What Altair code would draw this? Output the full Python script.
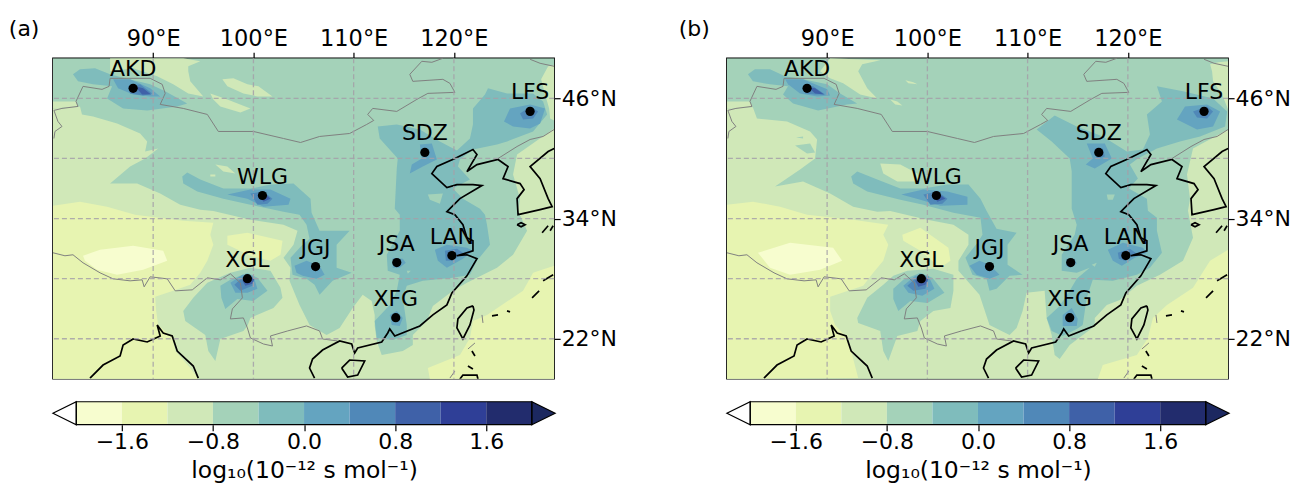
import altair as alt

# ---- values (lon, lat) ----
LEVEL_EDGES = [-2.0, -1.6, -1.2, -0.8, -0.4, 0.0, 0.4, 0.8, 1.2, 1.6, 2.0]
LEVEL_COLORS = ["#f7fdcf", "#e7f4b1", "#d0e8b8", "#a4d2b9", "#7fbcbc", "#64a4c0",
                "#5088b8", "#3f61a8", "#2f3f97", "#222c6d"]
CBAR_TICKS = [-1.6, -0.8, 0.0, 0.8, 1.6]
LON_TICKS = [90, 100, 110, 120]
LAT_TICKS = [22, 34, 46]
LAT_GRID = [22, 28, 34, 40, 46]

STATION_NAMES = ["AKD", "LFS", "SDZ", "WLG", "XGL", "JGJ", "JSA", "LAN", "XFG"]
STATION_LON = [88.0, 127.6, 117.1, 100.9, 99.4, 106.2, 114.3, 119.8, 114.2]
STATION_LAT = [47.0, 44.7, 40.6, 36.3, 28.0, 29.2, 29.6, 30.3, 24.1]

BASE = [(80, 18), (130, 18), (130, 50), (80, 50)]

BORDERS = [
    [(80.1,44.8),(80.9,45.0),(82.5,45.2),(82.3,45.7),(83.0,47.2),(84.9,46.9),(85.6,47.2),(85.7,48.0),(86.5,48.0),
     (89.7,48.0),(90.9,47.4),(91.2,46.5),(90.7,45.4),(93.0,45.0),(95.4,44.4),(96.5,42.7),(100.0,42.7),(103.0,42.0),
     (104.7,41.6),(106.6,42.2),(109.6,42.5),(111.3,43.4),(112.0,43.8),(111.4,44.4),(111.9,45.0),(114.3,44.7),
     (116.3,45.9),(117.4,46.5),(120.1,46.6),(119.6,47.5),(118.9,47.9),(115.9,47.7),(115.6,48.4),(116.8,49.7),
     (117.8,49.6),(118.9,50.0)],
    [(80.1,44.8),(80.5,43.7),(80.9,43.2),(80.2,42.7),(80.1,42.0)],
    [(127.6,49.9),(128.6,49.5),(130.0,49.2)],
    [(124.4,40.0),(126.3,41.2),(127.6,41.9),(128.9,42.2),(130.0,42.9)],
    [(80.0,30.6),(81.2,30.3),(82.0,30.4),(83.0,29.6),(84.7,28.6),(86.0,28.0),(87.7,27.8),(88.9,27.9),(89.1,27.2),
     (89.7,28.2),(91.4,28.0),(92.2,26.8),(93.9,26.9),(95.4,28.1),(96.7,27.9),(97.7,28.5),(98.7,27.6),(98.9,26.1),
     (97.9,25.0),(97.7,24.0),(99.0,24.1),(99.4,23.1),(99.7,22.1),(101.0,21.5),(101.9,21.3),(101.7,22.3),(103.4,22.8),
     (105.3,23.3),(106.6,22.8),(106.9,22.0),(108.4,21.8)],
    [(122.8,24.4),(122.9,23.6)],
    [(121.4,21.0),(122.1,21.6)],
    [(119.6,18.1),(120.1,18.8)],
]

COASTS = [
    [(83.7,18.1),(85.0,19.4),(86.7,20.3),(87.0,21.4),(88.0,22.0),(89.4,21.7),(90.7,22.3),(90.4,23.4),(91.0,22.6),
     (91.9,22.3),(92.4,20.8),(94.0,19.3),(94.5,18.1)],
    [(106.1,18.1),(105.6,19.1),(105.9,20.0),(106.9,20.9),(108.6,21.8),(109.8,21.5),(110.1,20.6),(110.4,21.1),
     (112.8,21.7),(113.4,22.6),(113.6,23.0),(114.1,22.3),(116.6,23.3),(117.9,24.4),(119.3,25.4),(119.8,26.6),
     (121.3,28.3),(122.3,30.0),(121.3,30.4),(120.3,30.3),(121.9,30.8),(121.9,31.8),(121.3,32.1),(120.9,33.4),
     (120.1,34.4),(119.3,34.7),(120.1,35.5),(120.6,36.0),(122.8,37.3),(121.9,37.4),(120.3,37.4),(119.3,37.1),
     (117.8,38.5),(118.3,39.2),(120.1,40.0),(121.9,40.9),(122.3,40.4),(121.3,38.7),(122.3,39.4),(124.4,39.9),
     (125.4,39.2),(124.9,38.0),(126.6,37.5),(127.0,36.9),(126.3,36.0),(126.4,34.4),(128.6,34.9),(129.8,35.2),
     (129.4,36.0),(128.6,38.0),(127.6,39.2),(129.4,40.7),(130.0,41.0)],
    [(121.9,25.3),(121.3,25.1),(120.4,24.0),(120.3,23.1),(120.9,22.0),(121.6,23.4),(122.0,24.9),(121.9,25.3)],
    [(108.8,19.1),(109.6,19.9),(111.1,19.8),(110.4,18.4),(109.4,18.2),(108.8,19.1)],
    [(120.6,18.0),(120.9,18.4),(122.3,18.4),(122.4,18.0)],
    [(126.3,33.4),(126.7,33.6),(127.1,33.4),(126.7,33.2),(126.3,33.4)],
    [(127.8,26.1),(128.5,26.8)],
    [(128.9,27.8),(129.9,28.4)],
    [(123.8,24.3),(124.4,24.4)],
    [(125.3,24.8),(125.6,24.7)],
    [(128.8,32.6),(129.4,33.3)],
    [(129.6,32.8),(129.9,33.3)],
    [(121.8,20.8),(122.1,20.3)],
    [(121.4,19.3),(121.9,19.0)],
]

# contour polygons of panel (a), (level index, ring), painted in this order
PANEL_A = [
 (3, BASE),
 (2, [(80.0,45.0),(82.7,45.2),(82.9,44.4),(84.0,44.2),(86.4,43.5),(88.7,42.5),(89.4,41.7),(89.2,40.7),(90.5,41.0),(89.2,40.0),
      (87.7,39.2),(85.7,37.5),(88.4,37.5),(90.7,36.5),(92.7,35.4),(94.7,34.9),(96.0,34.76),(99.7,33.9),(103.0,33.4),(104.4,32.8),
      (104.0,31.4),(103.0,30.1),(103.7,29.1),(103.6,27.8),(104.6,25.4),(105.6,23.4),(107.3,22.4),(108.6,23.1),(109.9,25.1),
      (110.9,26.4),(111.8,25.8),(112.1,24.4),(112.1,23.3),(112.3,21.8),(112.8,20.4),(114.9,20.8),(115.9,21.4),(115.9,22.4),
      (117.3,23.8),(117.9,25.3),(119.9,26.8),(121.3,27.6),(124.3,29.1),(125.9,30.4),(127.3,32.8),(126.4,34.8),(126.6,36.0),
      (125.9,38.4),(126.3,40.4),(130,43.0),(130,18),(80,18)]),
 (2, [(80,45.7),(81.2,45.7),(82.3,45.7),(82.5,45.2),(80,45.0)]),
 (2, [(130,49.3),(129.4,49.2),(128.7,47.9),(129.1,46.4),(129.5,45.0),(129.6,44.0),(130,43.8)]),
 (2, [(85.7,50),(93.0,50),(94.7,49.7),(93.5,49.2),(93.5,48.7),(93.7,47.7),(95.0,46.2),(93.5,46.5),(92.0,47.4),(90.4,48.2),(88.0,49.0),(85.7,48.7)]),
 (2, [(96.9,47.9),(98.0,48.0),(99.4,47.4),(100.5,47.2),(101.9,46.2),(100.4,46.2),(99.0,46.5),(97.4,47.2)]),
 (2, [(95.7,46.5),(97.4,45.9),(99.7,45.0),(98.7,44.6),(96.7,45.2),(96.0,45.9)]),
 (2, [(96.2,39.4),(97.4,39.2),(98.2,38.5),(97.0,38.7)]),
 (2, [(95.7,38.4),(96.2,38.4),(96.2,38.2),(95.7,38.2)]),
 (1, [(80.0,35.3),(82.7,35.7),(85.4,35.2),(88.2,34.4),(93.0,33.8),(96.0,33.6),(95.7,32.4),(96.0,31.4),(95.4,29.8),(94.7,28.6),
      (93.7,27.4),(92.0,26.8),(90.2,26.2),(90.3,24.8),(90.5,23.4),(91.9,22.1),(92.2,20.8),(93.7,19.1),(94.5,18),(80,18)]),
 (1, [(97.4,32.3),(99.4,32.6),(102.9,31.8),(102.7,30.4),(101.7,29.8),(99.7,30.3),(97.4,31.4)]),
 (1, [(130,29.3),(127.9,28.6),(126.9,26.8),(123.3,24.4),(121.9,23.8),(121.6,22.1),(120.6,20.4),(117.4,19.1),(117.6,18),(130,18)]),
 (0, [(83.0,30.3),(84.7,30.9),(88.0,31.3),(91.0,30.8),(91.4,29.8),(89.0,28.9),(86.4,28.4),(84.4,28.9),(83.2,29.8)]),
 (3, [(93.0,24.8),(94.0,26.1),(95.4,27.6),(97.0,28.3),(97.7,28.6),(99.7,29.1),(101.7,28.8),(102.7,27.1),(102.9,26.1),(102.0,25.1),
      (99.7,24.1),(99.4,23.3),(99.0,22.8),(96.7,22.0),(96.2,19.8),(95.5,20.8),(95.2,22.4),(93.2,23.8)]),
 (4, [(96.7,27.3),(97.7,27.9),(99.4,28.6),(100.4,28.1),(101.4,26.8),(100.0,25.8),(98.4,26.0),(97.2,25.0),(96.8,26.1)]),
 (5, [(97.7,27.6),(98.9,28.4),(100.0,28.3),(100.4,27.0),(99.4,26.6),(98.2,26.6)]),
 (6, [(98.1,27.4),(99.2,28.4),(100.0,28.1),(99.9,27.3),(98.7,26.8)]),
 (7, [(98.9,27.8),(99.4,28.3),(100.1,28.0),(99.9,27.5),(99.2,27.3)]),
 (4, [(92.9,38.2),(93.4,38.6),(94.7,37.9),(97.0,37.0),(99.7,37.0),(101.7,37.4),(104.0,37.5),(105.7,36.0),(105.8,34.6),(106.6,32.8),
      (109.6,32.8),(108.3,31.4),(108.3,29.1),(109.8,28.6),(107.9,27.8),(106.6,26.4),(106.1,27.4),(105.3,28.0),(103.9,28.4),(103.7,30.1),
      (104.8,31.3),(105.6,32.0),(105.3,33.4),(104.6,34.4),(103.0,34.7),(99.7,35.4),(97.0,36.0),(94.4,36.7),(93.0,37.5)]),
 (4, [(112.4,43.2),(114.3,43.4),(116.6,42.9),(118.6,41.7),(120.3,40.8),(121.6,42.0),(121.9,43.4),(121.9,45.0),(123.1,46.4),(123.4,47.0),
      (125.3,46.5),(127.9,46.5),(128.9,45.7),(129.3,44.4),(127.9,42.7),(125.3,41.7),(124.3,41.4),(121.9,40.9),(120.6,39.9),(120.4,39.2),
      (121.6,37.9),(119.9,37.0),(120.9,36.0),(122.6,35.0),(123.1,34.4),(123.3,33.4),(123.6,31.4),(122.3,29.8),(121.6,28.4),(119.9,28.1),
      (116.9,27.8),(115.3,27.3),(114.9,26.1),(115.3,23.4),(115.3,22.4),(113.9,21.9),(112.3,22.1),(112.1,23.8),(113.6,25.4),(114.3,26.8),
      (114.6,28.4),(113.4,28.8),(113.3,30.4),(114.6,32.8),(114.6,34.4),(114.1,35.0),(114.3,39.0),(114.4,40.0),(112.6,42.0)]),
 (3, [(117.4,36.4),(118.9,36.5),(118.6,35.5),(117.6,35.9)]),
 (3, [(115.3,28.8),(115.7,28.8),(115.4,28.5)]),
 (5, [(116.6,41.4),(117.8,41.5),(118.3,39.9),(116.9,39.2),(115.6,38.5),(115.8,39.4),(116.8,40.0)]),
 (5, [(125.6,45.0),(127.6,45.4),(129.1,45.0),(128.6,43.5),(127.6,43.0),(125.9,43.2),(125.0,43.7)]),
 (6, [(126.6,44.5),(127.6,45.2),(128.4,44.7),(127.9,44.0),(126.9,43.9)]),
 (5, [(118.1,30.9),(119.3,31.4),(121.3,31.1),(121.9,30.8),(120.9,30.0),(119.3,29.1),(118.4,29.8)]),
 (6, [(119.1,30.8),(120.3,31.0),(120.9,30.6),(119.9,29.8),(119.2,29.8)]),
 (5, [(113.9,30.1),(114.9,30.0),(115.2,29.6),(114.6,29.1),(113.9,29.1)]),
 (5, [(113.6,24.4),(114.3,24.8),(114.9,24.1),(114.6,23.3),(113.8,23.4)]),
 (5, [(104.1,29.3),(105.3,29.8),(106.6,29.3),(107.1,28.4),(106.3,28.0),(104.9,28.3),(104.3,28.6)]),
 (4, [(82.0,48.4),(82.7,48.9),(84.2,49.0),(85.7,48.4),(87.2,48.0),(89.7,47.4),(91.2,46.7),(93.4,45.5),(92.4,45.2),(89.4,44.8),(87.0,45.0),
      (85.4,46.0),(85.9,47.2),(84.0,47.4),(82.5,47.7)]),
 (5, [(86.0,47.9),(87.7,47.9),(89.7,47.0),(90.7,46.2),(89.7,46.2),(88.0,46.4),(86.5,47.0)]),
 (6, [(87.5,47.2),(88.7,47.4),(89.9,46.5),(89.0,46.3),(87.7,46.5)]),
 (7, [(88.2,47.2),(89.0,47.0),(89.8,46.4),(88.9,46.4)]),
 (5, [(97.4,36.4),(99.7,36.9),(101.7,36.9),(103.7,36.0),(103.5,35.4),(101.0,35.2),(99.4,36.0)]),
 (6, [(99.7,36.5),(101.0,36.7),(101.9,36.0),(101.4,35.5),(100.4,35.4)]),
 (7, [(100.5,36.4),(101.2,36.5),(101.7,36.0),(101.0,35.7)]),
]

# contour polygons of panel (b)
PANEL_B = [
 (3, BASE),
 (2, [(80.0,45.0),(82.6,45.1),(83.0,44.0),(86.0,43.7),(88.3,42.7),(89.0,41.9),(88.8,40.0),(87.3,38.9),(84.8,37.2),(87.6,37.7),(90.3,36.5),
      (92.6,35.2),(95.0,34.7),(96.3,34.76),(100.0,33.9),(102.6,33.4),(104.1,32.4),(104.1,31.4),(103.1,29.8),(103.1,28.8),(105.2,26.4),
      (106.2,23.4),(108.2,22.4),(108.9,23.1),(109.5,24.8),(109.9,26.6),(111.7,26.8),(111.9,24.1),(112.4,22.4),(112.7,20.4),(113.2,20.0),
      (114.2,21.4),(116.7,23.3),(116.7,24.1),(117.9,25.4),(119.2,25.9),(120.9,27.3),(123.2,28.4),(125.5,29.8),(126.5,32.1),(126.0,34.8),
      (126.2,36.0),(125.9,38.4),(126.5,41.0),(130,42.9),(130,18),(80,18)]),
 (2, [(80,45.7),(82.3,45.7),(82.6,45.1),(80,45.0)]),
 (2, [(130,49.7),(129,49.6),(128.2,49.4),(128.4,48.7),(128.5,47.7),(129.4,46.4),(130,44.9)]),
 (2, [(90.3,50),(95.3,49.8),(93.5,49.4),(93.1,48.7),(94.0,47.0),(95.0,46.0),(93.3,46.4),(91.6,47.5),(90.3,48.0),(89.3,48.7)]),
 (2, [(97.8,47.8),(98.6,47.6),(99.0,47.4),(98.1,47.5)]),
 (2, [(96.3,45.9),(97.0,45.7),(97.5,45.3),(96.8,45.4)]),
 (2, [(95.3,39.5),(97.3,39.4),(99.0,38.5),(99.3,37.7),(97.0,37.7),(95.6,38.5)]),
 (3, [(86.9,42.1),(87.6,42.2),(87.6,42.0)]),
 (3, [(86.8,41.3),(88.3,41.5),(88.8,40.6),(88.0,40.5)]),
 (1, [(80,35.4),(82.6,35.7),(85.3,35.2),(88,34.4),(92.6,33.9),(96.1,33.4),(95.6,32.4),(96.1,31.4),(95.6,29.8),(94.6,28.6),(93.6,27.3),
      (92.1,26.8),(90.3,26.2),(90.3,24.8),(90.8,23.4),(92.0,22.1),(92.5,20.4),(93.1,18.1),(80,18)]),
 (1, [(97.5,32.4),(99.3,33.1),(102.1,31.1),(102.3,29.8),(101.3,29.1),(99.3,30.8),(97.6,31.8)]),
 (1, [(130,30.9),(128.2,29.8),(126.5,27.1),(123.9,25.4),(122.5,24.1),(122.0,22.1),(120.9,20.4),(117.5,19.4),(117.0,18.0),(130,18)]),
 (0, [(83.1,30.6),(86.3,31.6),(90.6,31.1),(91.5,29.8),(89.3,28.9),(86.3,28.4),(84.3,29.1)]),
 (3, [(93.0,24.1),(94,26.1),(95.6,27.4),(96.6,28.3),(98,28.8),(100.6,29.0),(102.6,28.4),(102.6,26.8),(102.3,25.1),(100.6,24.8),(99.3,23.8),
      (99,22.8),(97,22.3),(96.1,19.8),(95.6,20.8),(95.3,22.8),(93.1,23.6)]),
 (4, [(96.6,27),(97.6,27.9),(99.3,28.6),(100.5,28.1),(101.7,26.6),(100,25.6),(98.3,25.8),(97.1,24.8),(96.6,26)]),
 (5, [(97.6,27.3),(98.8,28.3),(100.1,28.3),(100.7,27),(99.5,26.3),(98.1,26.6)]),
 (6, [(98,27.3),(99.1,28.3),(100.1,28),(99.8,27),(98.6,26.8)]),
 (7, [(98.8,27.8),(99.3,28.4),(100.1,28),(99.8,27.4),(99.1,27.2)]),
 (4, [(92.4,38.2),(93,38.7),(95,37.9),(97.3,37),(99.6,37),(102,37.4),(104.1,37.4),(105.3,36),(105.9,34.8),(106.9,33),(108.9,32.6),(108,31.4),
      (108,29.4),(109.5,28.4),(108.2,28.3),(106.9,27),(106.2,26.8),(105.9,28),(104.5,28.4),(103.8,30.1),(105,31.6),(105.5,32.4),(105.3,34.1),
      (102.6,34.6),(99.6,35.4),(97.3,35.9),(94,36.7),(92.6,37.5)]),
 (4, [(110.9,42.9),(112.7,44.3),(114.9,43.2),(117.5,42.2),(119.9,40.7),(121.5,40.9),(122.2,42.4),(121.9,44.4),(123.4,45.7),(122.9,47.2),
      (125.5,46.7),(128.5,46),(129.9,44.7),(129.7,43.2),(127.2,42.2),(125.2,41.7),(122.9,41),(121,40),(120.2,39.4),(121,38),(120.1,37),(121.9,36),
      (122,34.8),(122.9,34.1),(122.9,32.8),(123.4,30.6),(122.2,29.1),(120.9,28.4),(118.5,27.8),(116.5,27.9),(115.9,26.1),(115.5,23.4),(114.9,23),
      (113.5,22.3),(112.4,22.8),(111.9,24.1),(113.2,25.3),(114.2,26.8),(114.9,28),(116.2,29.1),(114.9,28.6),(113.4,28.8),(113.4,30.4),(114.7,32.4),
      (114.9,33.4),(114.4,35),(114.4,38.7),(114.2,40),(112.4,41.7)]),
 (3, [(117.9,36.4),(118.7,36.4),(118.5,35.9),(118,35.9)]),
 (3, [(116.4,29.4),(116.9,29.6),(116.7,29.2)]),
 (5, [(115.9,41.5),(117.7,41.5),(118.4,40),(116.7,39),(115.8,39.4),(116.5,40)]),
 (6, [(116.7,41),(117.5,41),(117.7,40.2),(116.9,40)]),
 (5, [(125.7,45.2),(127.9,45.4),(129.2,44.7),(128.5,43.2),(126.9,42.9),(124.9,43.9)]),
 (6, [(126.5,44.7),(127.9,45.2),(128.5,44.7),(127.9,44),(126.9,44.1)]),
 (5, [(118,30.9),(119.5,31.6),(121.5,31.1),(121.9,30.6),(120.7,30.1),(119.4,29.3),(118.5,29.8)]),
 (6, [(119,30.6),(120.2,31),(120.9,30.5),(119.7,29.8),(119.1,30)]),
 (5, [(113.9,30),(114.7,30),(114.9,29.5),(114.2,29.1),(113.8,29.3)]),
 (5, [(113.5,24.4),(114.4,25.1),(115,24),(114.9,23.3),(113.5,23.3)]),
 (5, [(104.2,29.3),(105.2,29.8),(106.2,29.4),(107.2,28.4),(106.2,28),(104.9,28.4)]),
 (4, [(82.1,48.4),(82.8,48.9),(84.3,48.9),(85.8,48.2),(87.6,47.9),(90,47.4),(91.3,46.5),(93,45.5),(92,45.4),(89.1,44.8),(86.6,45.5),(85.6,46.4),
      (86.1,47.2),(84.3,47.4),(82.6,47.7)]),
 (5, [(85.8,47.9),(87.6,47.9),(90,46.9),(90.3,46.3),(89,46.2),(87.3,46.5),(86.1,47.4)]),
 (6, [(87.6,47.2),(88.6,47.2),(89.8,46.4),(88.8,46.4),(87.8,46.5)]),
 (7, [(88.1,47.1),(88.8,47),(89.7,46.4),(88.8,46.5)]),
 (5, [(97.4,36.4),(99.6,36.9),(102,36.7),(104,36.2),(104,35.4),(101.3,35.3),(99.3,35.9)]),
 (6, [(99.6,36.4),(101,36.7),(102,36),(101.5,35.5),(100.3,35.4)]),
 (7, [(100.5,36.4),(101.1,36.5),(101.8,36),(101,35.7)]),
]

FONT = "DejaVu Sans"
FS = 22
CBAR_TITLE = "log₁₀(10⁻¹² s mol⁻¹)"

PROJ = dict(type="identity", reflectY=True, scale=10.04, translate=[-803.2, 502])
XS = alt.Scale(domain=[80, 130], nice=False, zero=False)
YS = alt.Scale(domain=[18, 50], nice=False, zero=False)

COMMON_AXIS = dict(grid=False, domain=False, tickSize=6, tickColor="black", tickWidth=1.2, title=None,
                   labelFont=FONT, labelColor="black")
XAX = alt.Axis(orient="top", values=LON_TICKS, labelExpr="datum.value + '°E'", labelPadding=2, labelFontSize=22.5, **COMMON_AXIS)
YAX = alt.Axis(orient="right", values=LAT_TICKS, labelExpr="datum.value + '°N'", labelPadding=1, labelFontSize=22, **COMMON_AXIS)


def fc(features):
    return alt.InlineData(values={"type": "FeatureCollection", "features": features},
                          format=alt.DataFormat(property="features", type="json"))


def polys(rows):
    return fc([{"type": "Feature", "properties": {"level": l},
                "geometry": {"type": "Polygon", "coordinates": [[list(p) for p in ring] + [list(ring[0])]]}}
               for l, ring in rows])


def lines(rows):
    return fc([{"type": "Feature", "properties": {},
                "geometry": {"type": "LineString", "coordinates": [list(p) for p in r]}} for r in rows])


def panel(rows, tag, tag_lon):
    fills = alt.Chart(polys(rows)).mark_geoshape(strokeWidth=0).encode(
        color=alt.Color("properties.level:O", legend=None,
                        scale=alt.Scale(domain=list(range(10)), range=LEVEL_COLORS))
    ).project(**PROJ)
    border = alt.Chart(lines(BORDERS)).mark_geoshape(filled=False, stroke="#7f7f7f", strokeWidth=1).project(**PROJ)
    coast = alt.Chart(lines(COASTS)).mark_geoshape(filled=False, stroke="black", strokeWidth=1.7).project(**PROJ)
    vgrid = alt.Chart(alt.Data(values=[{"lon": v} for v in LON_TICKS])).mark_rule(
        color="#a5a0a8", strokeDash=[5, 3], strokeWidth=1.3, opacity=0.85
    ).encode(x=alt.X("lon:Q", scale=XS, axis=XAX))
    hgrid = alt.Chart(alt.Data(values=[{"lat": v} for v in LAT_GRID])).mark_rule(
        color="#a5a0a8", strokeDash=[5, 3], strokeWidth=1.3, opacity=0.85
    ).encode(y=alt.Y("lat:Q", scale=YS, axis=YAX))
    st = alt.Data(values=[{"n": n, "lon": a, "lat": b} for n, a, b in zip(STATION_NAMES, STATION_LON, STATION_LAT)])
    pos = dict(x=alt.X("lon:Q", scale=XS, axis=XAX), y=alt.Y("lat:Q", scale=YS, axis=YAX))
    dots = alt.Chart(st).mark_point(filled=True, color="black", size=85, opacity=1).encode(**pos)
    names = alt.Chart(st).mark_text(font=FONT, fontSize=FS, color="black", dy=-19).encode(text="n:N", **pos)
    label = alt.Chart(alt.Data(values=[{"t": tag, "lon": tag_lon, "lat": 52.9}])).mark_text(
        font=FONT, fontSize=FS, color="black", align="left", clip=False).encode(text="t:N", **pos)
    return alt.layer(fills, border, coast, vgrid, hgrid, dots, names, label).properties(
        width=502, height=321, view=alt.ViewConfig(stroke="black", strokeWidth=1.5))


def colorbar():
    lo = LEVEL_EDGES[0]
    hi = LEVEL_EDGES[-1]
    xs = alt.Scale(domain=[lo - 0.205, hi + 0.205], nice=False, zero=False)
    ys = alt.Scale(domain=[0, 1], nice=False)
    ax = alt.Axis(values=CBAR_TICKS, grid=False, domain=False, tickSize=6, tickColor="black", tickWidth=1.2,
                  labelFont=FONT, labelFontSize=FS, labelColor="black", labelPadding=1,
                  title=CBAR_TITLE, titleFont=FONT, titleFontSize=23.5, titleFontWeight="normal", titleColor="black",
                  titlePadding=6, labelExpr="replace(format(datum.value, '.1f'), '-', '−')")
    yax = alt.Axis(labels=False, ticks=False, domain=False, grid=False, title=None)
    rows = [{"a": a, "b": b, "c": c} for a, b, c in zip(LEVEL_EDGES[:-1], LEVEL_EDGES[1:], LEVEL_COLORS)]
    rects = alt.Chart(alt.Data(values=rows)).mark_rect().encode(
        x=alt.X("a:Q", scale=xs, axis=ax),
        x2="b:Q", y=alt.value(0), y2=alt.value(23), color=alt.Color("c:N", scale=None))
    frame = alt.Chart(alt.Data(values=[{"a": lo, "b": hi}])).mark_rect(
        fill="transparent", stroke="black", strokeWidth=1.2).encode(
        x=alt.X("a:Q", scale=xs, axis=ax), x2="b:Q", y=alt.value(0), y2=alt.value(23))
    left = alt.Chart(alt.Data(values=[{"x": lo - 0.205, "y": 0.5, "y2": 0.5}, {"x": lo, "y": 0, "y2": 1}])).mark_area(
        color="white", stroke="black", strokeWidth=1.2).encode(
        x=alt.X("x:Q", scale=xs, axis=ax), y=alt.Y("y:Q", scale=ys, axis=yax), y2="y2:Q")
    right = alt.Chart(alt.Data(values=[{"x": hi, "y": 0, "y2": 1}, {"x": hi + 0.205, "y": 0.5, "y2": 0.5}])).mark_area(
        color="#1c2860", stroke="black", strokeWidth=1.2).encode(
        x=alt.X("x:Q", scale=xs, axis=ax), y=alt.Y("y:Q", scale=ys, axis=yax), y2="y2:Q")
    return alt.layer(rects, left, right, frame).properties(width=503, height=23, view=alt.ViewConfig(stroke=None))


col_a = alt.vconcat(panel(PANEL_A, "(a)", 75.6), colorbar(), spacing=18)
col_b = alt.vconcat(panel(PANEL_B, "(b)", 75.2), colorbar(), spacing=18)
chart = alt.hconcat(col_a, col_b, spacing=60).properties(
    padding={"left": 0, "top": 9, "right": -1, "bottom": 0}, background="white")

chart.save("out.html", embed_options={"renderer": "svg", "actions": False})
